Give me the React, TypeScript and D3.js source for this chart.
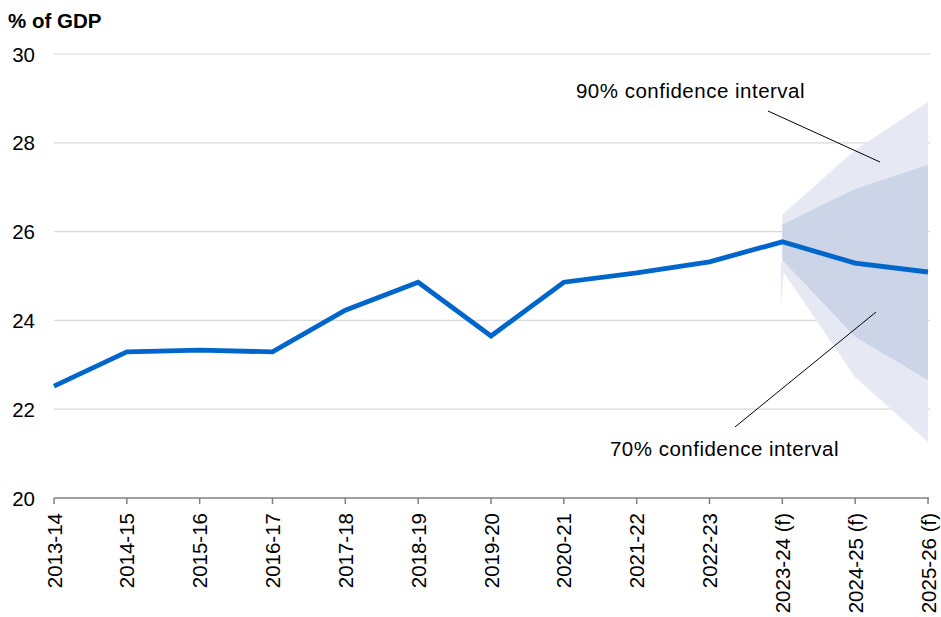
import React from "react";
import * as d3 from "d3";

const categories = [
  "2013-14", "2014-15", "2015-16", "2016-17", "2017-18", "2018-19", "2019-20",
  "2020-21", "2021-22", "2022-23", "2023-24 (f)", "2024-25 (f)", "2025-26 (f)",
];
const values = [22.52, 23.29, 23.33, 23.29, 24.23, 24.86, 23.65, 24.86, 25.07, 25.32, 25.77, 25.29, 25.09];

const fanCategories = ["2023-24 (f)", "2024-25 (f)", "2025-26 (f)"];
const upper90 = [26.38, 27.84, 28.92];
const upper70 = [26.16, 26.96, 27.5];
const lower70 = [25.36, 23.63, 22.66];
const lower90 = [25.13, 22.72, 21.26];
const sliverLow = 24.3;

const yTicks = [20, 22, 24, 26, 28, 30];

const W = 941;
const H = 617;

export default function App() {
  const x = d3.scalePoint<string>().domain(categories).range([54, 928]);
  const y = d3.scaleLinear().domain([20, 30]).range([498, 54]);

  const fan90 = fanCategories.map((c, i) => ({ c, hi: upper90[i], lo: lower90[i] }));
  const fan70 = fanCategories.map((c, i) => ({ c, hi: upper70[i], lo: lower70[i] }));
  const area = d3
    .area<{ c: string; hi: number; lo: number }>()
    .x((d) => x(d.c)!)
    .y0((d) => y(d.lo))
    .y1((d) => y(d.hi));
  const line = d3
    .line<number>()
    .x((_, i) => x(categories[i])!)
    .y((d) => y(d));

  const x0 = x(fanCategories[0])!;
  const sliver = `M${x0 - 1.5},${y(lower70[0])}L${x0 - 1.5},${y(sliverLow)}L${x0 + 1.5},${y(lower90[0])}Z`;

  const font = "'Liberation Sans', Arial, sans-serif";
  const fs = 20.5;

  return (
    <svg width={W} height={H} style={{ position: "absolute", left: 0, top: 0 }} fontFamily={font}>
      <rect width={W} height={H} fill="#fff" />
      {yTicks.filter((t) => t > 20).map((t) => (
        <line key={t} x1={54} x2={930} y1={y(t)} y2={y(t)} stroke="#d6d8de" strokeWidth={1.2} />
      ))}
      <path d={area(fan90)!} fill="#e6e8f4" />
      <path d={sliver} fill="#e6e8f4" />
      <path d={area(fan70)!} fill="#ccd4e8" />
      <line x1={54} x2={929} y1={y(20)} y2={y(20)} stroke="#808080" strokeWidth={1.5} />
      {categories.map((c) => (
        <line key={c} x1={x(c)!} x2={x(c)!} y1={y(20)} y2={y(20) + 6} stroke="#808080" strokeWidth={1.5} />
      ))}
      <path d={line(values)!} fill="none" stroke="#0066cc" strokeWidth={4.8} strokeLinejoin="miter" />
      {yTicks.map((t) => (
        <text key={t} x={35} y={y(t) + 7.5} fontSize={fs} textAnchor="end" fill="#000">
          {t}
        </text>
      ))}
      {categories.map((c) => (
        <text
          key={c}
          transform={`translate(${x(c)! + 7.5},${y(20) + 15}) rotate(-90)`}
          fontSize={fs}
          textAnchor="end"
          fill="#000"
        >
          {c}
        </text>
      ))}
      <text x={8} y={28} fontSize={fs} fontWeight="bold" fill="#000">% of GDP</text>
      <text x={690.5} y={98} fontSize={fs} textAnchor="middle" fill="#000" letterSpacing={0.5}>90% confidence interval</text>
      <line x1={768} y1={111} x2={880} y2={162} stroke="#000" strokeWidth={1} />
      <text x={724.5} y={456} fontSize={fs} textAnchor="middle" fill="#000" letterSpacing={0.5}>70% confidence interval</text>
      <line x1={735} y1={427} x2={876} y2={312} stroke="#000" strokeWidth={1} />
    </svg>
  );
}
